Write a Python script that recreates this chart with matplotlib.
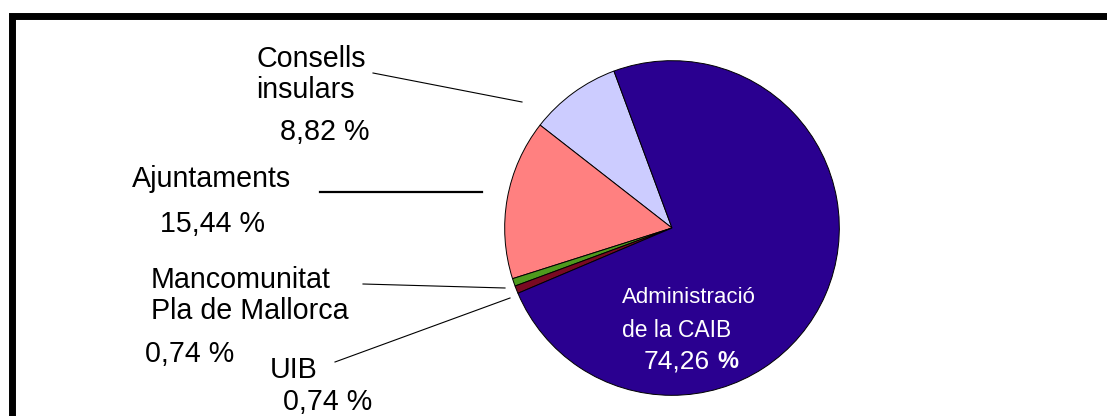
import matplotlib
matplotlib.use("Agg")
import matplotlib.pyplot as plt
from matplotlib.lines import Line2D
from matplotlib.patches import Rectangle

# data, counter-clockwise from the top
labels = ["Consells\ninsulars", "Ajuntaments", "Mancomunitat\nPla de Mallorca", "UIB", "Administració\nde la CAIB"]
shares = [8.82, 15.44, 0.74, 0.74, 74.26]
pct_text = ["8,82 %", "15,44 %", "0,74 %", "0,74 %", "74,26"]
colors = ["#CCCCFF", "#FF8080", "#4E9A1E", "#7A0A22", "#2A0090"]

W, H = 1107, 416
fig = plt.figure(figsize=(W / 100, H / 100), dpi=100)
plt.rcParams["font.family"] = ["Liberation Sans", "DejaVu Sans"]


def fx(px):
    return px / W


def fy(py):
    return 1 - py / H


# pie axes: centre (672, 228), radius 169 px
cx, cy, r = 672, 228, 169
ax = fig.add_axes([fx(cx - r), fy(cy + r), 2 * r / W, 2 * r / H])
ax.pie(
    shares,
    colors=colors,
    startangle=110.3,
    counterclock=True,
    radius=1,
    wedgeprops=dict(edgecolor="black", linewidth=0.7),
)
ax.set_xlim(-1.01, 1.01)
ax.set_ylim(-1.01, 1.01)
ax.set_aspect("equal")
ax.axis("off")

fs = 20.6
# outside labels (left, baseline in px)
fig.text(fx(256), fy(67), "Consells", fontsize=fs, va="baseline")
fig.text(fx(256), fy(98), "insulars", fontsize=fs, va="baseline")
fig.text(fx(280), fy(140), pct_text[0], fontsize=fs, va="baseline")

fig.text(fx(132), fy(187), "Ajuntaments", fontsize=fs, va="baseline")
fig.text(fx(160), fy(232), pct_text[1], fontsize=fs, va="baseline")

fig.text(fx(151), fy(288), "Mancomunitat", fontsize=fs, va="baseline")
fig.text(fx(151), fy(319), "Pla de Mallorca", fontsize=fs, va="baseline")
fig.text(fx(145), fy(362), pct_text[2], fontsize=fs, va="baseline")

fig.text(fx(270), fy(378), "UIB", fontsize=fs, va="baseline")
fig.text(fx(283), fy(410), pct_text[3], fontsize=fs, va="baseline")

# label inside the big slice
inner = dict(color="white", va="baseline")
fig.text(fx(622), fy(303), "Administració", fontsize=16, **inner)
fig.text(fx(622), fy(337), "de la CAIB", fontsize=16.5, **inner)
fig.text(fx(644), fy(368), pct_text[4], fontsize=19, **inner)
fig.text(fx(717), fy(368), "%", fontsize=17, fontweight="bold", **inner)

# leader lines
leaders = [
    ((373, 73), (522, 102), 0.8),
    ((320, 192), (482, 192), 1.6),
    ((363, 284), (505, 288), 0.8),
    ((335, 362), (510, 298), 0.8),
]
for (x0, y0), (x1, y1), lw in leaders:
    fig.add_artist(Line2D([fx(x0), fx(x1)], [fy(y0), fy(y1)], color="black", lw=lw))

# thick frame running off the right and bottom edges
fig.add_artist(Rectangle((fx(11.5), fy(440)), fx(1200), 440 / H - 16.5 / H,
                         transform=fig.transFigure, fill=False,
                         edgecolor="black", linewidth=5.0, clip_on=False))

fig.savefig("out.png", dpi=100)
